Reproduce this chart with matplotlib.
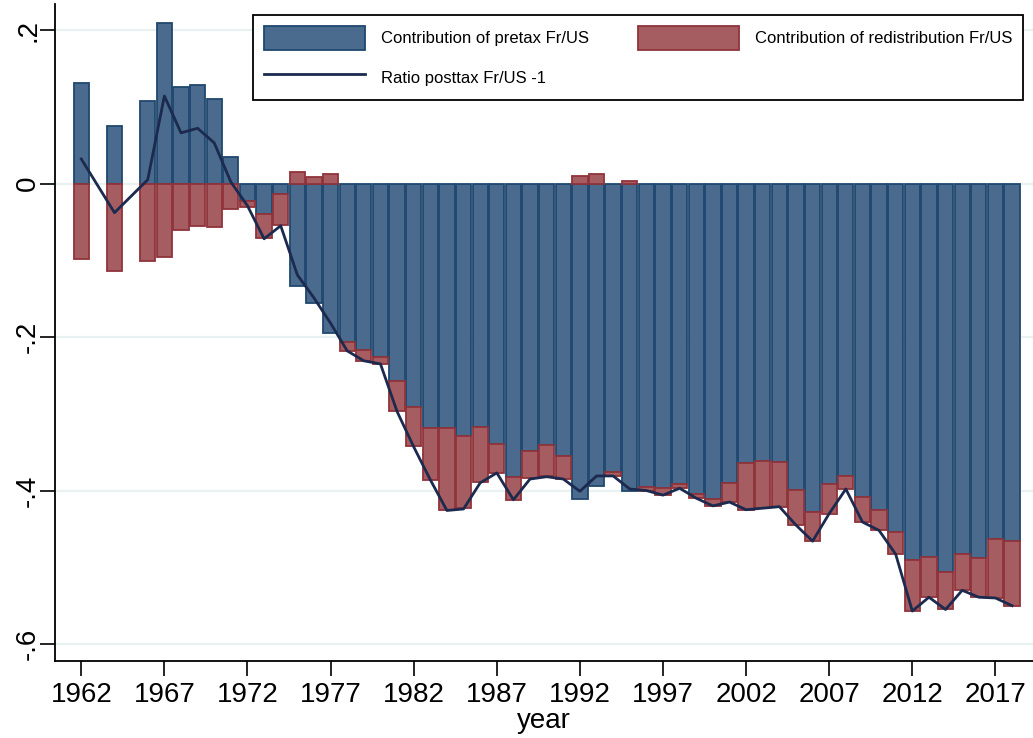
import numpy as np
import matplotlib
matplotlib.use("Agg")
import matplotlib.pyplot as plt
from matplotlib.patches import Patch
from matplotlib.lines import Line2D

plt.rcParams["font.family"] = ["Liberation Sans", "DejaVu Sans"]

years = [1962, 1964] + list(range(1966, 2019))

# contribution of pretax inequality Fr/US
pretax = [
    0.131, 0.075, 0.107, 0.209, 0.126, 0.128, 0.110, 0.034, -0.023, -0.040,
    -0.013, -0.134, -0.156, -0.195, -0.206, -0.217, -0.226, -0.257, -0.291, -0.318,
    -0.318, -0.329, -0.317, -0.340, -0.383, -0.349, -0.341, -0.355, -0.411, -0.394,
    -0.376, -0.400, -0.395, -0.397, -0.391, -0.404, -0.411, -0.390, -0.364, -0.362,
    -0.363, -0.399, -0.428, -0.392, -0.381, -0.409, -0.426, -0.454, -0.491, -0.486,
    -0.506, -0.483, -0.488, -0.463, -0.466,
]

# contribution of redistribution Fr/US
redist = [
    -0.098, -0.114, -0.101, -0.096, -0.061, -0.055, -0.057, -0.033, -0.007, -0.031,
    -0.041, 0.015, 0.008, 0.013, -0.012, -0.014, -0.009, -0.039, -0.051, -0.068,
    -0.107, -0.094, -0.072, -0.037, -0.029, -0.035, -0.040, -0.030, 0.010, 0.013,
    -0.005, 0.003, -0.005, -0.009, -0.006, -0.006, -0.009, -0.025, -0.061, -0.061,
    -0.058, -0.046, -0.038, -0.038, -0.017, -0.032, -0.026, -0.029, -0.066, -0.053,
    -0.049, -0.047, -0.051, -0.077, -0.084,
]

# ratio posttax Fr/US minus one
posttax = [
    0.032, -0.038, 0.005, 0.114, 0.066, 0.072, 0.053, 0.002, -0.029, -0.072,
    -0.055, -0.119, -0.149, -0.182, -0.218, -0.231, -0.235, -0.297, -0.343, -0.386,
    -0.426, -0.424, -0.390, -0.377, -0.412, -0.385, -0.382, -0.385, -0.401, -0.381,
    -0.381, -0.398, -0.400, -0.406, -0.397, -0.410, -0.420, -0.415, -0.425, -0.423,
    -0.421, -0.445, -0.466, -0.430, -0.398, -0.441, -0.452, -0.483, -0.557, -0.539,
    -0.555, -0.530, -0.539, -0.540, -0.550,
]

xticks = list(range(1962, 2018, 5))
yticks = [-0.6, -0.4, -0.2, 0, 0.2]
ytick_labels = ["-.6", "-.4", "-.2", "0", ".2"]

BLUE, BLUE_EDGE = "#4a6b8d", "#1f4870"
RED, RED_EDGE = "#a65d61", "#8f333a"
LINE = "#1b2a4e"
GRID = "#eaf1f3"

yrs = np.array(years)
pre = np.array(pretax)
red = np.array(redist)
# red segment stacks onto the blue one when both share the same sign
red_bottom = np.where(np.sign(pre) == np.sign(red), pre, 0.0)

fig = plt.figure(figsize=(10.33, 7.38), dpi=100)
ax = fig.add_axes([55 / 1033, 1 - 661 / 738, 1 - 55 / 1033, (661 - 4) / 738])

for y in yticks:
    ax.axhline(y, color=GRID, lw=1.6, zorder=0)

ax.bar(yrs, pre, width=0.92, color=BLUE, edgecolor=BLUE_EDGE, linewidth=1.3, zorder=2)
ax.bar(yrs, red, bottom=red_bottom, width=0.92, color=RED, edgecolor=RED_EDGE,
       linewidth=1.3, zorder=2)
ax.plot(yrs, posttax, color=LINE, lw=2.0, zorder=3)

ax.set_xlim(1960.42, 2019.26)
ax.set_ylim(-0.6221, 0.2339)
ax.set_xticks(xticks)
ax.set_yticks(yticks)
ax.set_yticklabels(ytick_labels, rotation=90, va="center")
ax.tick_params(axis="both", labelsize=20, length=11, width=1.2, color="black")
ax.tick_params(axis="y", pad=-1)
ax.tick_params(axis="x", pad=4)
ax.set_xlabel("year", fontsize=20, labelpad=0)

for side in ("top", "right"):
    ax.spines[side].set_visible(False)
for side in ("left", "bottom"):
    ax.spines[side].set_linewidth(1.3)

handles = [
    Patch(facecolor=BLUE, edgecolor=BLUE_EDGE, linewidth=1.3, label="Contribution of pretax Fr/US"),
    Line2D([0], [0], color=LINE, lw=2, label="Ratio posttax Fr/US -1"),
    Patch(facecolor=RED, edgecolor=RED_EDGE, linewidth=1.3, label="Contribution of redistribution Fr/US"),
]
leg = ax.legend(handles=handles, loc="upper left", ncol=2,
                bbox_to_anchor=(252.7 / 1033, 1 - 15 / 738), bbox_transform=fig.transFigure,
                fontsize=12, handlelength=6.1, handleheight=1.8, handletextpad=0.95,
                labelspacing=0.95, columnspacing=2.9, borderpad=0.66, borderaxespad=0,
                fancybox=False, framealpha=1, edgecolor="black")
leg.get_frame().set_linewidth(1.3)

fig.savefig("out.png", dpi=100)
